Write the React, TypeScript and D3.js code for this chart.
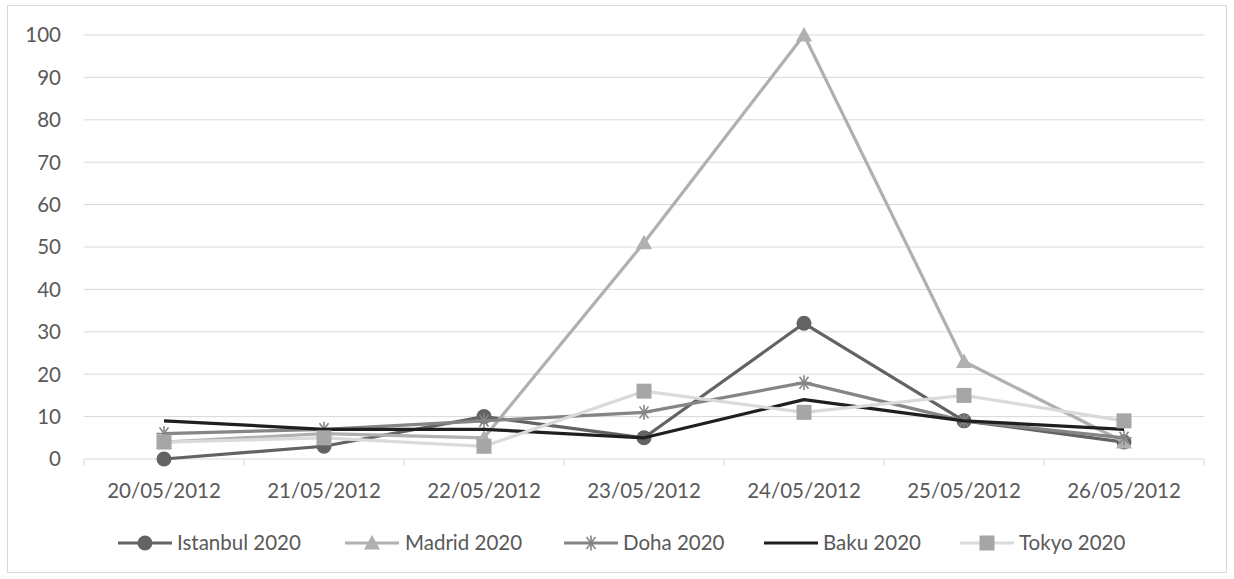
import React from "react";
import * as d3 from "d3";

const categories = ["20/05/2012", "21/05/2012", "22/05/2012", "23/05/2012", "24/05/2012", "25/05/2012", "26/05/2012"];
const istanbul = [0, 3, 10, 5, 32, 9, 4];
const madrid = [4, 6, 5, 51, 100, 23, 4];
const doha = [6, 7, 9, 11, 18, 9, 5];
const baku = [9, 7, 7, 5, 14, 9, 7];
const tokyo = [4, 5, 3, 16, 11, 15, 9];
const yTicks = [0, 10, 20, 30, 40, 50, 60, 70, 80, 90, 100];

type Marker = "circle" | "triangle" | "star" | "none" | "square";
const seriesList: { name: string; values: number[]; line: string; fill: string; marker: Marker }[] = [
  { name: "Istanbul 2020", values: istanbul, line: "#636363", fill: "#636363", marker: "circle" },
  { name: "Madrid 2020", values: madrid, line: "#b0b0b0", fill: "#b0b0b0", marker: "triangle" },
  { name: "Doha 2020", values: doha, line: "#858585", fill: "#858585", marker: "star" },
  { name: "Baku 2020", values: baku, line: "#1f1f1f", fill: "#1f1f1f", marker: "none" },
  { name: "Tokyo 2020", values: tokyo, line: "#dadada", fill: "#a6a6a6", marker: "square" },
];

const FONT = "Lato, 'Open Sans', sans-serif";
const FS = 20.5;

function MarkerShape({ kind, x, y, color }: { kind: Marker; x: number; y: number; color: string }) {
  if (kind === "circle") return <circle cx={x} cy={y} r={7.5} fill={color} />;
  if (kind === "square") return <rect x={x - 7.5} y={y - 7.5} width={15} height={15} fill={color} />;
  if (kind === "triangle")
    return <path d={`M${x},${y - 8}L${x + 8},${y + 6.5}L${x - 8},${y + 6.5}Z`} fill={color} />;
  if (kind === "star") {
    const r = 7.5;
    return (
      <g stroke={color} strokeWidth={1.6}>
        <line x1={x - r} y1={y} x2={x + r} y2={y} />
        <line x1={x - r * 0.6} y1={y - r * 0.8} x2={x + r * 0.6} y2={y + r * 0.8} />
        <line x1={x + r * 0.6} y1={y - r * 0.8} x2={x - r * 0.6} y2={y + r * 0.8} />
        <line x1={x} y1={y - r} x2={x} y2={y + r} />
      </g>
    );
  }
  return null;
}

export default function App() {
  const W = 1234, H = 579;
  const left = 84, right = 1204, top = 35, bottom = 459;
  const x = d3.scaleBand<string>().domain(categories).range([left, right]);
  const y = d3.scaleLinear().domain([0, 100]).range([bottom, top]);
  const cx = (c: string) => (x(c) as number) + x.bandwidth() / 2;
  const line = d3.line<number>().x((_, i) => cx(categories[i])).y((v) => y(v));
  const tickXs = [...categories.map((c) => x(c) as number), right];

  const legendItems = [
    { lx: 118, tx: 177 },
    { lx: 345, tx: 405 },
    { lx: 564, tx: 623 },
    { lx: 764, tx: 823 },
    { lx: 960, tx: 1019 },
  ];
  const ly = 543;

  return (
    <svg width={W} height={H} style={{ position: "absolute", left: 0, top: 0 }}>
      <rect x={0} y={0} width={W} height={H} fill="#fff" />
      <rect x={7.5} y={5.5} width={1219} height={567} fill="none" stroke="#d9d9d9" strokeWidth={1} />
      {yTicks.map((t) => (
        <g key={t}>
          {t > 0 && <line x1={left} x2={right} y1={y(t)} y2={y(t)} stroke="#d9d9d9" strokeWidth={1} />}
          <text x={61} y={y(t)} dy="0.36em" textAnchor="end" fontFamily={FONT} fontSize={FS} fill="#595959">
            {t}
          </text>
        </g>
      ))}
      <line x1={left} x2={right} y1={bottom} y2={bottom} stroke="#d9d9d9" strokeWidth={1} />
      {tickXs.map((tx, i) => (
        <line key={i} x1={tx} x2={tx} y1={bottom} y2={bottom + 7} stroke="#d9d9d9" strokeWidth={1} />
      ))}
      {categories.map((c) => (
        <text key={c} x={cx(c)} y={491} dy="0.36em" textAnchor="middle" fontFamily={FONT} fontSize={FS} fill="#595959">
          {c}
        </text>
      ))}
      {seriesList.map((s) => (
        <g key={s.name}>
          <path d={line(s.values) || ""} fill="none" stroke={s.line} strokeWidth={3.2} strokeLinejoin="round" />
          {s.values.map((v, i) => (
            <MarkerShape key={i} kind={s.marker} x={cx(categories[i])} y={y(v)} color={s.fill} />
          ))}
        </g>
      ))}
      {seriesList.map((s, i) => (
        <g key={s.name}>
          <line x1={legendItems[i].lx} x2={legendItems[i].lx + 54} y1={ly} y2={ly} stroke={s.line} strokeWidth={3.2} />
          <MarkerShape kind={s.marker} x={legendItems[i].lx + 27} y={ly} color={s.fill} />
          <text x={legendItems[i].tx} y={ly} dy="0.36em" fontFamily={FONT} fontSize={FS} fill="#595959">
            {s.name}
          </text>
        </g>
      ))}
    </svg>
  );
}
